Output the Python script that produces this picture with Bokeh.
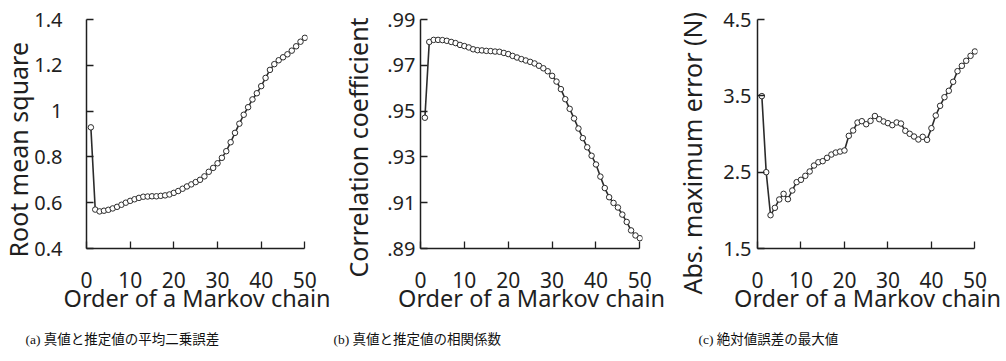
from bokeh.plotting import figure
from bokeh.layouts import row
from bokeh.models import Range1d, FixedTicker, Title
from bokeh.embed import file_html
from bokeh.resources import INLINE

orders = list(range(1, 51))

rms = [0.929, 0.570, 0.562, 0.565, 0.569, 0.575, 0.582, 0.591, 0.600, 0.608,
       0.615, 0.621, 0.626, 0.627, 0.628, 0.628, 0.630, 0.632, 0.636, 0.643,
       0.651, 0.661, 0.671, 0.680, 0.690, 0.700, 0.715, 0.735, 0.752, 0.772,
       0.796, 0.825, 0.864, 0.905, 0.945, 0.984, 1.017, 1.051, 1.078, 1.109,
       1.145, 1.180, 1.205, 1.222, 1.235, 1.248, 1.264, 1.283, 1.303, 1.320]

corr = [0.9471, 0.9802, 0.9811, 0.9811, 0.9810, 0.9807, 0.9802, 0.9797, 0.9789, 0.9784,
        0.9778, 0.9770, 0.9766, 0.9765, 0.9763, 0.9762, 0.9760, 0.9759, 0.9754, 0.9749,
        0.9741, 0.9734, 0.9727, 0.9721, 0.9715, 0.9708, 0.9698, 0.9687, 0.9674, 0.9654,
        0.9629, 0.9596, 0.9552, 0.9510, 0.9468, 0.9424, 0.9382, 0.9342, 0.9305, 0.9267,
        0.9214, 0.9164, 0.9124, 0.9099, 0.9079, 0.9048, 0.9016, 0.8979, 0.8957, 0.8945]

abs_max = [3.496, 2.500, 1.936, 2.033, 2.142, 2.216, 2.146, 2.260, 2.369, 2.400,
           2.452, 2.509, 2.587, 2.630, 2.644, 2.688, 2.731, 2.757, 2.770, 2.784,
           2.976, 3.046, 3.150, 3.168, 3.128, 3.172, 3.236, 3.194, 3.164, 3.142,
           3.116, 3.151, 3.137, 3.042, 3.003, 2.967, 2.928, 2.963, 2.924, 3.076,
           3.242, 3.369, 3.482, 3.566, 3.684, 3.823, 3.893, 3.959, 4.024, 4.081]

x_ticks = [0, 10, 20, 30, 40, 50]

rms_ticks = [0.4, 0.6, 0.8, 1.0, 1.2, 1.4]
rms_tick_labels = ["0.4", "0.6", "0.8", "1", "1.2", "1.4"]
corr_ticks = [0.89, 0.91, 0.93, 0.95, 0.97, 0.99]
corr_tick_labels = [".89", ".91", ".93", ".95", ".97", ".99"]
abs_ticks = [1.5, 2.5, 3.5, 4.5]
abs_tick_labels = ["1.5", "2.5", "3.5", "4.5"]

x_title = "Order of a Markov chain"
y_titles = ["Root mean square", "Correlation coefficient", "Abs. maximum error (N)"]
captions = ["(a) 真値と推定値の平均二乗誤差", "(b) 真値と推定値の相関係数", "(c) 絶対値誤差の最大値"]

INK = "#1f1f1f"
FONT = "Noto Sans"


def panel(values, ticks, tick_labels, y_title, caption, width, left, right,
          ytick_standoff, yt_valign, yt_standoff, yt_offset, cap_offset):
    p = figure(width=width, height=361,
               x_range=Range1d(0, 50.6),
               y_range=Range1d(ticks[0], ticks[-1]),
               output_backend="svg", toolbar_location=None,
               min_border_left=left, min_border_right=right,
               min_border_top=19, min_border_bottom=113)
    p.outline_line_color = None
    p.xgrid.visible = False
    p.ygrid.visible = False
    p.background_fill_color = "white"
    p.border_fill_color = "white"

    p.line(orders, values, line_color="#2b2b2b", line_width=1.6)
    p.scatter(orders, values, marker="circle", size=5.5,
              fill_color="white", line_color="#2b2b2b", line_width=1)

    xa = p.xaxis[0]
    xa.ticker = FixedTicker(ticks=x_ticks)
    xa.bounds = (0, 50)
    xa.minor_tick_line_color = None
    xa.major_tick_in = 7
    xa.major_tick_out = 0
    xa.axis_line_width = 1.5
    xa.major_tick_line_width = 1.3
    xa.axis_line_color = INK
    xa.major_tick_line_color = INK
    xa.major_label_text_font = FONT
    xa.major_label_text_font_size = "21px"
    xa.major_label_text_color = INK
    xa.major_label_standoff = 23
    xa.axis_label = x_title
    xa.axis_label_text_font = FONT
    xa.axis_label_text_font_size = "23.5px"
    xa.axis_label_text_font_style = "normal"
    xa.axis_label_text_color = INK
    xa.axis_label_standoff = -9

    ya = p.yaxis[0]
    ya.ticker = FixedTicker(ticks=ticks)
    ya.major_label_overrides = {t: l for t, l in zip(ticks, tick_labels)}
    ya.minor_tick_line_color = None
    ya.major_tick_in = 7
    ya.major_tick_out = 0
    ya.axis_line_width = 1.5
    ya.major_tick_line_width = 1.3
    ya.axis_line_color = INK
    ya.major_tick_line_color = INK
    ya.major_label_text_font = FONT
    ya.major_label_text_font_size = "20px"
    ya.major_label_text_color = INK
    ya.major_label_standoff = ytick_standoff

    p.add_layout(Title(text=y_title, align="left", offset=yt_offset,
                       vertical_align=yt_valign, standoff=yt_standoff,
                       text_font=FONT, text_font_size="25px",
                       text_font_style="normal", text_color=INK), "left")
    p.add_layout(Title(text=caption, align="left", offset=cap_offset,
                       standoff=26, text_font="Liberation Serif, Noto Sans CJK JP",
                       text_font_size="13.5px", text_font_style="normal",
                       text_color="#111111"), "below")
    return p


pa = panel(rms, rms_ticks, rms_tick_labels, y_titles[0], captions[0],
           331, 86, 24, 24, "bottom", -6.6, -9, -61)
pb = panel(corr, corr_ticks, corr_tick_labels, y_titles[1], captions[1],
           334, 89, 23, 5, "top", 14.5, -29, -87)
pc = panel(abs_max, abs_ticks, abs_tick_labels, y_titles[2], captions[2],
           341, 91, 29, 6, "top", 18.5, -46, -59)

layout = row(pa, pb, pc)
open("out.html", "w").write(file_html(layout, INLINE))
